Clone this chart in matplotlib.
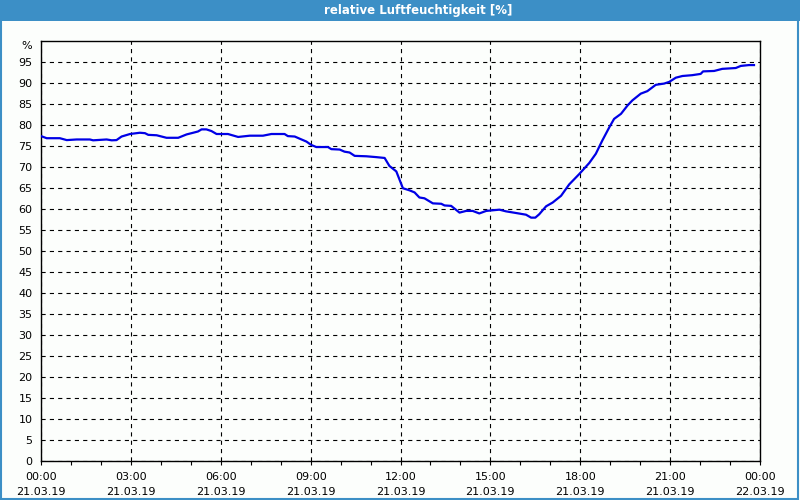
import matplotlib
matplotlib.use("Agg")
import matplotlib.pyplot as plt
from matplotlib.patches import Rectangle

# hours since 21.03.19 00:00
hours = [0.0, 0.19, 0.63, 0.86, 1.19, 1.63, 1.74, 2.19, 2.36, 2.52, 2.69, 2.97,
         3.3, 3.47, 3.58, 3.86, 4.19, 4.58, 4.86, 5.08, 5.24, 5.36, 5.52, 5.69,
         5.86, 6.24, 6.58, 6.97, 7.41, 7.69, 8.13, 8.24, 8.47, 8.63, 8.86, 9.02,
         9.19, 9.58, 9.69, 9.97, 10.13, 10.3, 10.47, 10.86, 11.19, 11.47, 11.63,
         11.86, 12.08, 12.3, 12.47, 12.63, 12.8, 13.08, 13.36, 13.47, 13.69, 13.97,
         14.19, 14.41, 14.63, 14.86, 15.3, 15.52, 15.86, 16.19, 16.36, 16.5, 16.63,
         16.86, 17.08, 17.36, 17.63, 17.97, 18.3, 18.52, 18.74, 18.97, 19.13, 19.36,
         19.58, 19.74, 20.02, 20.24, 20.52, 20.8, 20.97, 21.19, 21.41, 21.74, 22.02,
         22.1, 22.47, 22.74, 23.19, 23.36, 23.63, 23.8]
humidity = [77.3, 76.8, 76.8, 76.35, 76.5, 76.5, 76.3, 76.5, 76.3, 76.35, 77.2, 77.8,
            78.1, 78.0, 77.6, 77.5, 76.9, 76.9, 77.7, 78.1, 78.4, 78.9, 78.9, 78.5,
            77.8, 77.8, 77.1, 77.4, 77.4, 77.8, 77.8, 77.3, 77.2, 76.7, 76.0, 75.2,
            74.7, 74.7, 74.2, 74.1, 73.6, 73.4, 72.6, 72.5, 72.3, 72.1, 70.2,
            68.9, 64.9, 64.4, 63.9, 62.7, 62.5, 61.3, 61.2, 60.8, 60.7, 59.1,
            59.5, 59.5, 58.9, 59.5, 59.8, 59.4, 59.0, 58.6, 57.9, 57.9, 58.7,
            60.6, 61.5, 63.1, 65.8, 68.3, 70.9, 73.1, 76.3, 79.4, 81.4, 82.6,
            84.6, 85.8, 87.4, 88.0, 89.5, 89.8, 90.2, 91.2, 91.6, 91.8, 92.1,
            92.7, 92.8, 93.3, 93.5, 94.0, 94.2, 94.2]

x_ticks = [0, 3, 6, 9, 12, 15, 18, 21, 24]
x_labels = ["00:00\n21.03.19", "03:00\n21.03.19", "06:00\n21.03.19", "09:00\n21.03.19",
            "12:00\n21.03.19", "15:00\n21.03.19", "18:00\n21.03.19", "21:00\n21.03.19",
            "00:00\n22.03.19"]
y_ticks = list(range(0, 100, 5))

plt.rcParams["lines.scale_dashes"] = False
plt.rcParams["font.family"] = "DejaVu Sans"

bar_blue = "#3C8FC6"
fig = plt.figure(figsize=(8, 5), dpi=100, facecolor="#FCFEFC")

# title bar and frame
fig.patches.append(Rectangle((0, 1 - 21 / 500), 1, 21 / 500, transform=fig.transFigure,
                             facecolor=bar_blue, edgecolor="none", zorder=0))
fig.patches.append(Rectangle((0.001, 0.002), 0.997, 0.996, transform=fig.transFigure,
                             facecolor="none", edgecolor=bar_blue, linewidth=1.5, zorder=1))
fig.text(418 / 800, 1 - 10.5 / 500, "relative Luftfeuchtigkeit [%]", color="white",
         fontsize=8.5, fontweight="bold", ha="center", va="center")

ax = fig.add_axes([41 / 800, 39 / 500, 719 / 800, 420.3 / 500])
ax.set_facecolor("#FCFEFC")
ax.plot(hours, humidity, color="#0000E6", linewidth=1.6, solid_joinstyle="round", zorder=3)

ax.set_xlim(0, 24)
ax.set_ylim(0, 100)
ax.set_xticks(x_ticks)
ax.set_xticklabels(x_labels, fontsize=8, linespacing=1.55)
ax.set_xticks(range(0, 25), minor=True)
ax.set_yticks(y_ticks)
ax.set_yticklabels([str(v) for v in y_ticks], fontsize=8)
ax.text(-0.012, 98.7, "%", transform=ax.get_yaxis_transform(), ha="right", va="center",
        fontsize=8)

ax.tick_params(axis="x", which="both", direction="out", length=3, width=0.8, pad=5)
ax.tick_params(axis="y", length=0, pad=6)
ax.grid(True, which="major", color="black", linestyle=(0, (3, 3)), linewidth=0.8)
for s in ax.spines.values():
    s.set_linewidth(1.0)
    s.set_color("black")

fig.savefig("out.png", dpi=100, facecolor=fig.get_facecolor())
